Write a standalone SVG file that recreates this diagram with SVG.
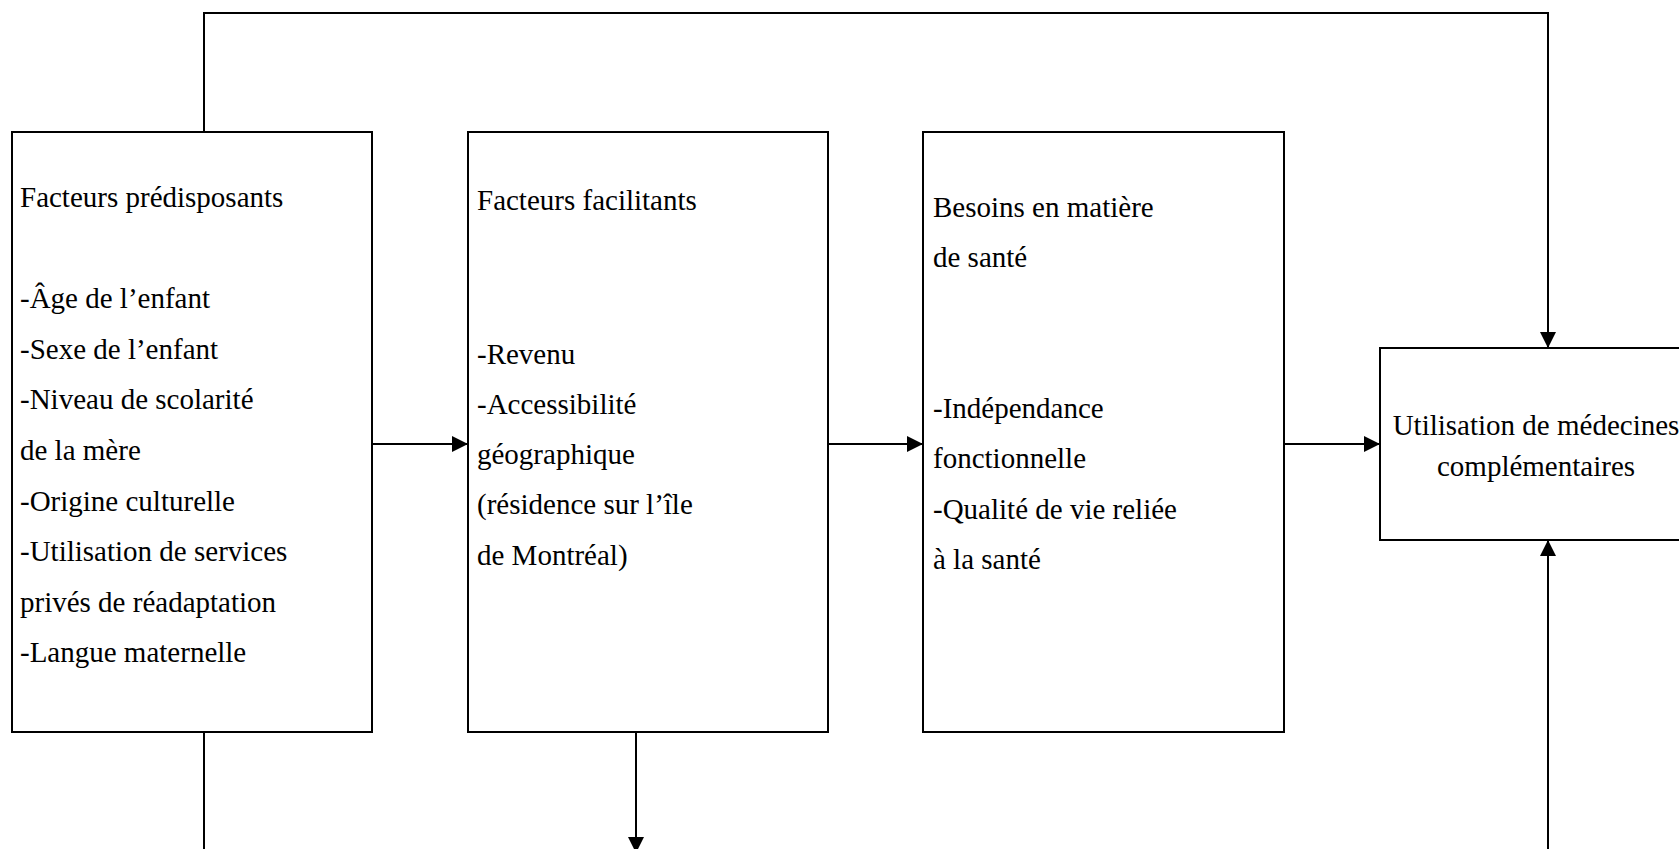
<svg xmlns="http://www.w3.org/2000/svg" width="1679" height="849" viewBox="0 0 1679 849">
<style>
.box{fill:#fff;stroke:#000;stroke-width:2}
.ln{fill:none;stroke:#000;stroke-width:2}
.t{font-family:"Liberation Serif","Times New Roman",serif;font-size:29px;fill:#000}
</style>
<defs>
<marker id="ah" markerUnits="userSpaceOnUse" markerWidth="16" markerHeight="16" refX="16" refY="8" orient="auto">
<path d="M0,0 L16,8 L0,16 Z" fill="#000"/>
</marker>
</defs>
<rect width="1679" height="849" fill="#fff"/>
<g id="connectors">
<polyline class="ln" points="204,132 204,13 1548,13 1548,348" marker-end="url(#ah)"/>
<line class="ln" x1="204" y1="732" x2="204" y2="850"/>
<line class="ln" x1="1548" y1="850" x2="1548" y2="540" marker-end="url(#ah)"/>
<line class="ln" x1="636" y1="732" x2="636" y2="853" marker-end="url(#ah)"/>
<line class="ln" x1="372" y1="444" x2="468" y2="444" marker-end="url(#ah)"/>
<line class="ln" x1="828" y1="444" x2="923" y2="444" marker-end="url(#ah)"/>
<line class="ln" x1="1284" y1="444" x2="1380" y2="444" marker-end="url(#ah)"/>
</g>
<g id="node-predisposants">
<rect class="box" x="12" y="132" width="360" height="600"/>
<text class="t" x="20" y="207">Facteurs prédisposants</text>
<text class="t" x="20" y="308">-Âge de l’enfant</text>
<text class="t" x="20" y="359">-Sexe de l’enfant</text>
<text class="t" x="20" y="409">-Niveau de scolarité</text>
<text class="t" x="20" y="460">de la mère</text>
<text class="t" x="20" y="511">-Origine culturelle</text>
<text class="t" x="20" y="561">-Utilisation de services</text>
<text class="t" x="20" y="612">privés de réadaptation</text>
<text class="t" x="20" y="662">-Langue maternelle</text>
</g>
<g id="node-facilitants">
<rect class="box" x="468" y="132" width="360" height="600"/>
<text class="t" x="477" y="210">Facteurs facilitants</text>
<text class="t" x="477" y="364">-Revenu</text>
<text class="t" x="477" y="414">-Accessibilité</text>
<text class="t" x="477" y="464">géographique</text>
<text class="t" x="477" y="514">(résidence sur l’île</text>
<text class="t" x="477" y="565">de Montréal)</text>
</g>
<g id="node-besoins">
<rect class="box" x="923" y="132" width="361" height="600"/>
<text class="t" x="933" y="217">Besoins en matière</text>
<text class="t" x="933" y="267">de santé</text>
<text class="t" x="933" y="418">-Indépendance</text>
<text class="t" x="933" y="468">fonctionnelle</text>
<text class="t" x="933" y="519">-Qualité de vie reliée</text>
<text class="t" x="933" y="569">à la santé</text>
</g>
<g id="node-utilisation">
<rect class="box" x="1380" y="348" width="340" height="192"/>
<text class="t" x="1536" y="435" text-anchor="middle">Utilisation de médecines</text>
<text class="t" x="1536" y="476" text-anchor="middle">complémentaires</text>
</g>
</svg>
